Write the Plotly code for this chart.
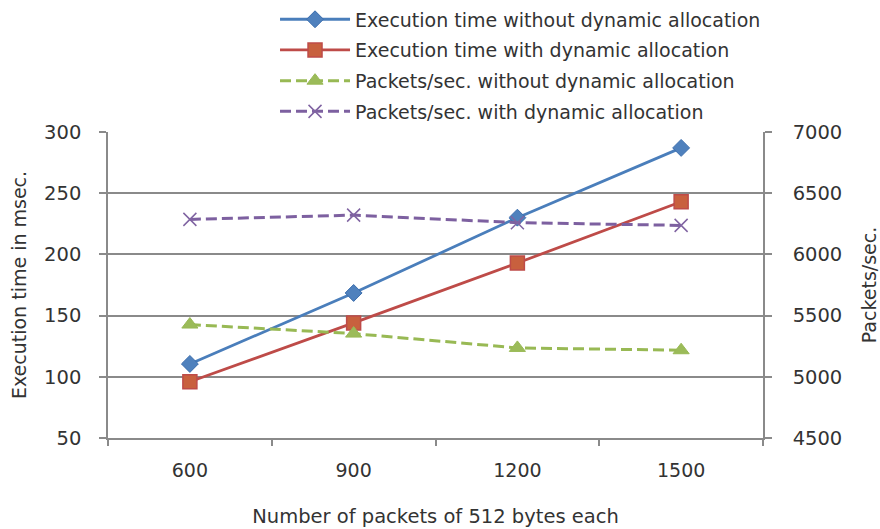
import plotly.graph_objects as go

# Packets sent per run (each packet 512 bytes)
packets = ["600", "900", "1200", "1500"]

# Execution time in msec.
exec_without_alloc = [110.5, 168.5, 230, 287]
exec_with_alloc = [96, 144, 193, 243]

# Throughput in packets/sec.
pps_without_alloc = [5427, 5353, 5236, 5217]
pps_with_alloc = [6286, 6321, 6259, 6237]

FONT = "DejaVu Sans"
TEXT = "#333333"
AXIS = "#8a8a8a"

fig = go.Figure()

fig.add_trace(go.Scatter(
    x=packets, y=exec_without_alloc, name="Execution time without dynamic allocation",
    mode="lines+markers", legendgroup="g1",
    line=dict(color="#4A7EBB", width=2.8),
    marker=dict(symbol="diamond", size=13, color="#4F81BD", line=dict(color="#3C6EAD", width=1)),
))
fig.add_trace(go.Scatter(
    x=packets, y=exec_with_alloc, name="Execution time with dynamic allocation",
    mode="lines+markers", legendgroup="g2",
    line=dict(color="#BE4B48", width=2.8),
    marker=dict(symbol="square", size=14, color="#C8603E", line=dict(color="#BE4B48", width=1.5)),
))
fig.add_trace(go.Scatter(
    x=packets, y=pps_without_alloc, name="Packets/sec. without dynamic allocation",
    mode="lines+markers", yaxis="y2", legendgroup="g3",
    line=dict(color="#98B954", width=3, dash="11px,5px"),
    marker=dict(symbol="triangle-up", size=14, color="#9BBB59", line=dict(color="#98B954", width=1)),
))
fig.add_trace(go.Scatter(
    x=packets, y=pps_with_alloc, name="Packets/sec. with dynamic allocation",
    mode="lines+markers", yaxis="y2", legendgroup="g4",
    line=dict(color="#7D60A0", width=3, dash="11px,5px"),
    marker=dict(symbol="x-thin", size=13, color="#8064A2", line=dict(color="#8064A2", width=1.5)),
))

fig.update_layout(
    width=880, height=529,
    margin=dict(l=108, r=117, t=132, b=91, autoexpand=False),
    paper_bgcolor="white", plot_bgcolor="white",
    font=dict(family=FONT, size=19, color=TEXT),
    showlegend=True,
    legend=dict(
        x=0.255, y=1.43, xanchor="left", yanchor="top",
        bgcolor="rgba(0,0,0,0)", borderwidth=0,
        font=dict(family=FONT, size=19, color=TEXT),
        itemwidth=70, traceorder="grouped", tracegroupgap=3,
    ),
    xaxis=dict(
        type="category",
        range=[-0.5, 3.5],
        title=dict(text="Number of packets of 512 bytes each", font=dict(size=19.5), standoff=30),
        tickfont=dict(size=19),
        showline=True, linecolor=AXIS, linewidth=1.5,
        ticks="outside", tickson="boundaries", ticklen=6, tickcolor=AXIS, tickwidth=1.5,
        showgrid=False, ticklabelstandoff=14,
    ),
    yaxis=dict(
        title=dict(text="Execution time in msec.", font=dict(size=19), standoff=12),
        range=[50, 300], dtick=50, tick0=50,
        tickfont=dict(size=19.5),
        showline=True, linecolor=AXIS, linewidth=1.5,
        ticks="outside", ticklen=7, tickcolor=AXIS, tickwidth=1.5,
        showgrid=True, gridcolor=AXIS, gridwidth=1.5,
        zeroline=False, ticklabelstandoff=14,
    ),
    yaxis2=dict(
        title=dict(text="Packets/sec.", font=dict(size=19), standoff=22),
        overlaying="y", side="right",
        range=[4500, 7000], dtick=500, tick0=4500,
        tickfont=dict(size=19.5),
        showline=True, linecolor=AXIS, linewidth=1.5,
        ticks="outside", ticklen=7, tickcolor=AXIS, tickwidth=1.5,
        showgrid=False, zeroline=False, ticklabelstandoff=17,
    ),
)

fig.write_html("out.html")
